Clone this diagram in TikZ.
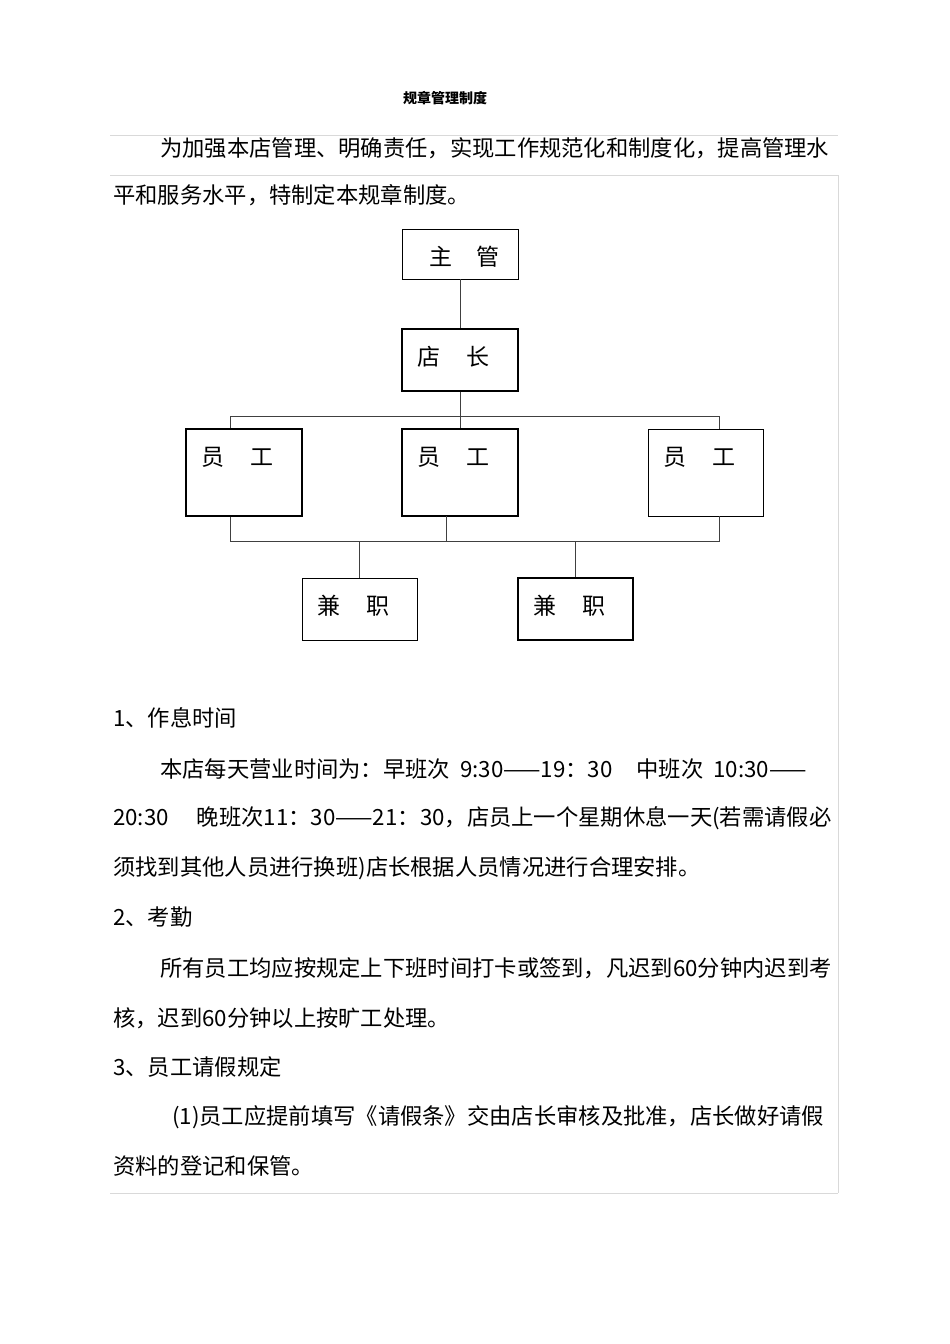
\documentclass[tikz,border=0pt]{standalone}
\usepackage{fontspec}
\setmainfont{Noto Sans CJK SC}
\begin{document}
\begin{tikzpicture}[x=1pt,y=-1pt,
  bx/.style={draw,line width=1.1pt,inner sep=0pt},
  bxthin/.style={draw,line width=0.8pt,inner sep=0pt},
  lbl/.style={anchor=west,font=\fontsize{23}{23}\selectfont},
  txt/.style={anchor=west,inner sep=0pt,font=\fontsize{22.3}{22}\selectfont},
  ln/.style={line width=0.8pt,draw=black!75},
  rule/.style={line width=0.5pt,draw=black!15}]
\useasboundingbox (0,0) rectangle (950,1344);
\fill[white] (0,0) rectangle (950,1344);
\draw[rule] (110,135) -- (838,135) (110,175) -- (838,175) (838,175) -- (838,1193) (110,1193) -- (838,1193);
\node[anchor=center,font=\bfseries\fontsize{14}{14}\selectfont] (title) at (445,98) {规章管理制度};
\node[txt] (p1) at (160,148) {为加强本店管理、明确责任，实现工作规范化和制度化，提高管理水};
\node[txt] (p2) at (113,195) {平和服务水平，特制定本规章制度。};
% boxes
\node[bxthin,minimum width=116pt,minimum height=50pt] (zg) at (460,254) {};
\node[lbl] at (426,257) {主\hspace{24pt}管};
\node[bx,minimum width=116pt,minimum height=62pt] (dz) at (460,360) {};
\node[lbl] at (414,357) {店\hspace{26pt}长};
\node[bx,minimum width=116pt,minimum height=87pt] (y1) at (244,472.5) {};
\node[lbl] at (198,457) {员\hspace{26pt}工};
\node[bx,minimum width=116pt,minimum height=87pt] (y2) at (460,472.5) {};
\node[lbl] at (414,457) {员\hspace{26pt}工};
\node[bxthin,minimum width=115pt,minimum height=87pt] (y3) at (705.5,472.5) {};
\node[lbl] at (660,457) {员\hspace{26pt}工};
\node[bxthin,minimum width=115pt,minimum height=62pt] (j1) at (359.5,609) {};
\node[lbl] at (314,606) {兼\hspace{26pt}职};
\node[bx,minimum width=115pt,minimum height=62pt] (j2) at (575.5,609) {};
\node[lbl] at (530,606) {兼\hspace{26pt}职};
% connectors
\coordinate (bl) at (230,416); \coordinate (br) at (719,416);
\coordinate (dl) at (230,541); \coordinate (dr) at (719,541);
\draw[ln] (zg.south) -- (dz.north);
\draw[ln] (dz.south) -- (y2.north);
\draw[ln] (y1.north -| bl) -- (bl) -- (br) -- (y3.north -| br);
\draw[ln] (y1.south -| dl) -- (dl) -- (dr) -- (y3.south -| dr);
\draw[ln] (446,516) -- (446,541);
\draw[ln] (j1.north) -- (j1.north |- dl);
\draw[ln] (j2.north) -- (j2.north |- dl);
% body
\node[txt] (h1) at (113,718) {1、作息时间};
\node[txt] (a1) at (160,769) {本店每天营业时间为：早班次\hspace{10pt}9:30——19：30\hspace{24pt}中班次\hspace{10pt}10:30——};
\node[txt] (a2) at (113,818) {20:30\hspace{28pt}晚班次11：30——21：30，店员上一个星期休息一天(若需请假必};
\node[txt] (a3) at (113,868) {须找到其他人员进行换班)店长根据人员情况进行合理安排。};
\node[txt] (h2) at (113,917) {2、考勤};
\node[txt] (b1) at (160,968) {所有员工均应按规定上下班时间打卡或签到，凡迟到60分钟内迟到考};
\node[txt] (b2) at (113,1018) {核，迟到60分钟以上按旷工处理。};
\node[txt] (h3) at (113,1067) {3、员工请假规定};
\node[txt] (c1) at (172,1117) {(1)员工应提前填写《请假条》交由店长审核及批准，店长做好请假};
\node[txt] (c2) at (113,1166) {资料的登记和保管。};
\end{tikzpicture}
\end{document}
